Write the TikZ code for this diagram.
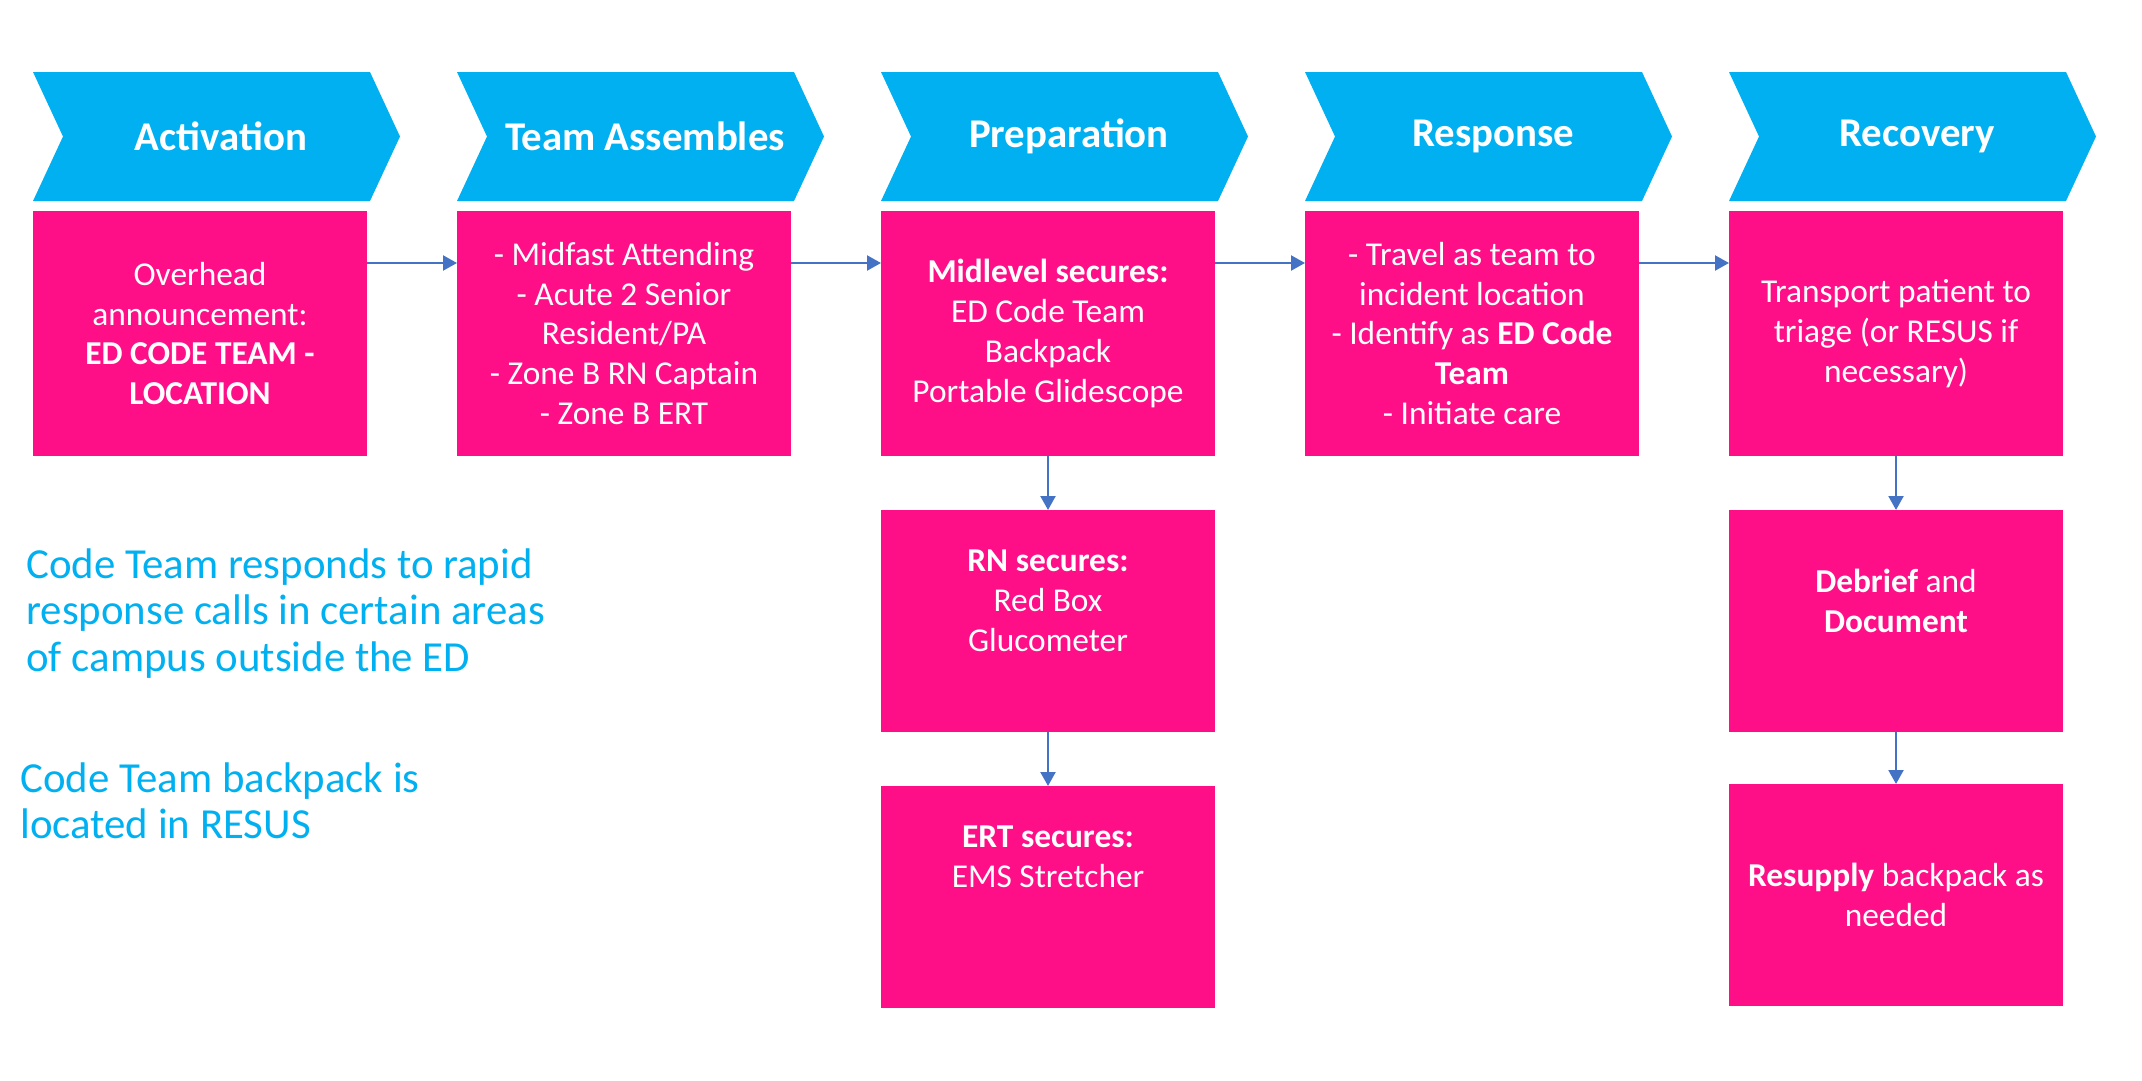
\documentclass[tikz,border=0pt]{standalone}
\usepackage{fontspec}
\setmainfont{Carlito}
\usetikzlibrary{positioning,arrows.meta,calc}
\definecolor{stageblue}{RGB}{0,176,240}
\definecolor{cardpink}{RGB}{255,15,135}
\definecolor{flowblue}{RGB}{68,114,196}

\tikzset{
  stage/.style={fill=stageblue},
  stagetext/.style={text=white,inner sep=0pt,font=\fontsize{20.5}{24}\selectfont\bfseries},
  card/.style={rectangle,fill=cardpink,text=white,align=center,inner sep=0pt,outer sep=0pt,
    minimum width=167bp,minimum height=122.5bp,font=\fontsize{16.75}{20}\selectfont},
  cardlow/.style={card,minimum height=111bp},
  cardtext/.style={text=white,align=center,inner sep=0pt,font=\fontsize{16.75}{20}\selectfont},
  flow/.style={draw=flowblue,line width=1.1pt,-{Triangle[length=7pt,width=7.5pt]}},
  note/.style={text=stageblue,align=left,anchor=north west,inner sep=0pt,
    font=\fontsize{21.5}{23.5}\selectfont}
}

\begin{document}
\begin{tikzpicture}
\useasboundingbox (0,0) rectangle (1071bp,-540.5bp);

% top row of cards
\node[card] (act) at (100bp,-166.75bp) {Overhead\\announcement:\\\textbf{ED CODE TEAM -}\\\textbf{LOCATION}};
\node[card,right=45bp of act] (team) {- Midfast Attending\\- Acute 2 Senior\\Resident/PA\\- Zone B RN Captain\\- Zone B ERT};
\node[card,right=45bp of team] (prep) {\textbf{Midlevel secures:}\\ED Code Team\\Backpack\\Portable Glidescope};
\node[card,right=45bp of prep] (resp) {- Travel as team to\\incident location\\- Identify as \textbf{ED Code}\\\textbf{Team}\\- Initiate care};
\node[card,right=45bp of resp] (recov) {Transport patient to\\triage (or RESUS if\\necessary)};

% chevrons
\foreach \b/\t in {act/Activation,team/Team Assembles,prep/Preparation,resp/Response,recov/Recovery}{
  \path[stage] ([yshift=5bp]\b.north west) -- ++(15bp,32.25bp) -- ++(-15bp,32.25bp)
    -- ++(168.5bp,0) -- ++(15bp,-32.25bp) -- ++(-15bp,-32.25bp) -- cycle;
  \node[stagetext] (\b-head) at ([xshift=94bp,yshift=37.25bp]\b.north west) {\t};
}

% lower cards
\node[cardlow,below=27bp of prep] (rn) {};
\node[cardtext] (rn-txt) at ([yshift=10bp]rn.center) {\textbf{RN secures:}\\Red Box\\Glucometer};
\node[cardlow,below=27bp of rn] (ert) {};
\node[cardtext] (ert-txt) at ([yshift=20bp]ert.center) {\textbf{ERT secures:}\\EMS Stretcher};
\node[cardlow,below=27bp of recov] (debrief) {};
\node[cardtext] (debrief-txt) at ([yshift=10bp]debrief.center) {\textbf{Debrief} and\\\textbf{Document}};
\node[cardlow,below=26bp of debrief] (resupply) {\textbf{Resupply} backpack as\\needed};

% connectors
\foreach \a/\b in {act/team,team/prep,prep/resp,resp/recov}
  \draw[flow] ([yshift=35.25bp]\a.east) -- ([yshift=35.25bp]\b.west);
\draw[flow] (prep) -- (rn);
\draw[flow] (rn) -- (ert);
\draw[flow] (recov) -- (debrief);
\draw[flow] (debrief) -- (resupply);

% notes
\node[note] (scope) at (13bp,-274bp) {Code Team responds to rapid\\response calls in certain areas\\of campus outside the ED};
\node[note] (kit) at (10bp,-381bp) {Code Team backpack is\\located in RESUS};
\end{tikzpicture}
\end{document}
